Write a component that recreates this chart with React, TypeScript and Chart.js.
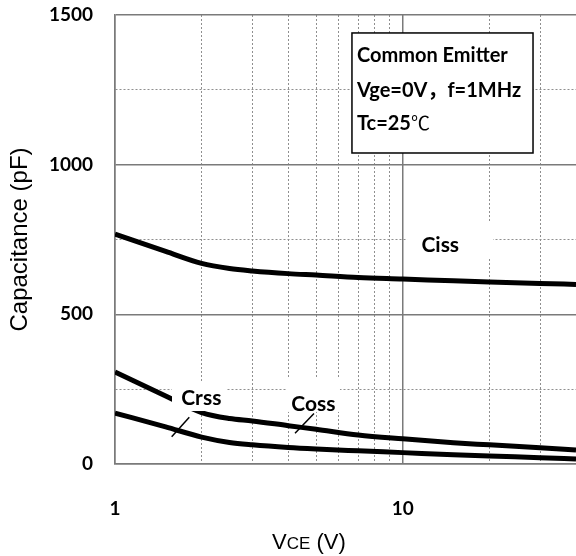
import React, { useEffect, useRef } from 'react';
import { Chart, registerables } from 'chart.js';

Chart.register(...registerables);

// ---- data ----
const vce = [1, 1.5, 2, 2.5, 3, 4, 5, 7, 10, 15, 20, 30, 40];
const ciss = [768, 710, 670, 653, 645, 636, 631, 623, 618, 612, 608, 603, 600];
const coss = [307, 227, 172, 152, 144, 128, 116, 97, 84, 71, 64, 54, 47];
const crss = [170, 124, 90, 72, 64, 55, 50, 44, 38, 31, 27, 21, 17];

const xGridValues = [1, 2, 3, 4, 5, 6, 7, 8, 9, 10, 20, 30];
const xTickLabels = [1, 10];
const yTickLabels = [0, 500, 1000, 1500];

const boxLines = ['Common Emitter', 'Vge=0V，f=1MHz', 'Tc=25'];

// ---- annotation layout (in data coordinates) ----
const curveLabels = [
  { text: 'Ciss', x: 13.5, y: 732, box: [10.35, 20.6, 808, 688] },
  { text: 'Crss', x: 1.995, y: 219, box: [1.578, 2.45, 271, 177] },
  { text: 'Coss', x: 4.89, y: 200, box: [3.96, 6.05, 284, 174] },
];
const leaders = [
  [1.812, 156, 1.574, 91],
  [4.915, 169, 4.223, 103],
];
const infoBox = { x0: 6.66, x1: 28.36, y0: 1440, y1: 1039, textX: 6.93, baselines: [1343, 1226, 1116] };

const LABEL_FONT = 'Lato, "Noto Sans", "Noto Sans CJK SC", sans-serif';
const GRID_MAJOR = '#7a7a7a';
const GRID_MINOR = '#8f8f8f';

const annotPlugin = {
  id: 'annot',
  afterDatasetsDraw(chart: any) {
    const { ctx, scales } = chart;
    const x = scales.x;
    const y = scales.y;
    const px = (v: number) => x.getPixelForValue(v);
    const py = (v: number) => y.getPixelForValue(v);
    ctx.save();
    // white patches behind curve labels
    ctx.fillStyle = '#ffffff';
    for (const l of curveLabels) {
      const [a, b, c, d] = l.box;
      ctx.fillRect(px(a), py(c), px(b) - px(a), py(d) - py(c));
    }
    ctx.fillStyle = '#000';
    ctx.font = `bold 21px ${LABEL_FONT}`;
    ctx.textAlign = 'center';
    ctx.textBaseline = 'middle';
    for (const l of curveLabels) {
      ctx.fillText(l.text, px(l.x), py(l.y));
    }
    // leader lines
    ctx.strokeStyle = '#000';
    ctx.lineWidth = 1.5;
    for (const [a, b, c, d] of leaders) {
      ctx.beginPath();
      ctx.moveTo(px(a), py(b));
      ctx.lineTo(px(c), py(d));
      ctx.stroke();
    }
    // info box
    const bx0 = px(infoBox.x0), bx1 = px(infoBox.x1);
    const by0 = py(infoBox.y0), by1 = py(infoBox.y1);
    ctx.fillStyle = '#fff';
    ctx.fillRect(bx0, by0, bx1 - bx0, by1 - by0);
    ctx.lineWidth = 1.5;
    ctx.strokeStyle = '#000';
    ctx.strokeRect(bx0, by0, bx1 - bx0, by1 - by0);
    ctx.fillStyle = '#000';
    ctx.textAlign = 'left';
    ctx.textBaseline = 'alphabetic';
    boxLines.forEach((t, i) => {
      ctx.font = `bold 20px ${LABEL_FONT}`;
      ctx.fillText(t, px(infoBox.textX), py(infoBox.baselines[i]));
      if (i === 2) {
        const w = ctx.measureText(t).width;
        ctx.font = '19px "Noto Sans CJK SC", "DejaVu Sans", sans-serif';
        ctx.fillText('℃', px(infoBox.textX) + w, py(infoBox.baselines[i]));
      }
    });
    ctx.restore();
  },
  afterDraw(chart: any) {
    const { ctx } = chart;
    ctx.save();
    ctx.fillStyle = '#000';
    ctx.textBaseline = 'alphabetic';
    ctx.textAlign = 'left';
    const base = 549;
    let cx = 272;
    const big = '22px "Liberation Sans", Arial, sans-serif';
    const small = '17px "Liberation Sans", Arial, sans-serif';
    const parts: [string, string][] = [['V', big], ['CE', small], [' (V)', big]];
    for (const [t, f] of parts) {
      ctx.font = f;
      ctx.fillText(t, cx, base);
      cx += ctx.measureText(t).width;
    }
    ctx.restore();
  },
};

export default function App() {
  const ref = useRef<HTMLCanvasElement | null>(null);
  useEffect(() => {
    if (!ref.current) return;
    const mk = (arr: number[]) => vce.map((v, i) => ({ x: v, y: arr[i] }));
    const ds = (label: string, arr: number[]) => ({
      label,
      data: mk(arr),
      borderColor: '#000',
      borderWidth: 5,
      pointRadius: 0,
      fill: false,
      cubicInterpolationMode: 'monotone' as const,
    });
    const chart = new Chart(ref.current, {
      type: 'line',
      data: { datasets: [ds('Ciss', ciss), ds('Coss', coss), ds('Crss', crss)] },
      options: {
        responsive: false,
        animation: false,
        devicePixelRatio: 1,
        layout: { autoPadding: false, padding: { top: 15, left: 0, right: 0, bottom: 0 } },
        plugins: { legend: { display: false }, tooltip: { enabled: false } },
        scales: {
          x: {
            type: 'logarithmic',
            min: 1,
            max: 40,
            bounds: 'data',
            afterBuildTicks: (s: any) => {
              s.ticks = xGridValues.map((v) => ({ value: v }));
            },
            afterFit: (s: any) => {
              s.height = 92;
              s.paddingLeft = 0;
              s.paddingRight = 0;
            },
            ticks: {
              autoSkip: false,
              maxRotation: 0,
              padding: 33,
              color: '#000',
              font: { family: LABEL_FONT, weight: 'bold', size: 19 },
              callback: (v: any) => (xTickLabels.includes(Number(v)) ? String(v) : ''),
            },
            grid: {
              drawTicks: false,
              color: (c: any) => (c.tick && xTickLabels.includes(c.tick.value) ? GRID_MAJOR : GRID_MINOR),
              lineWidth: (c: any) => (c.tick && xTickLabels.includes(c.tick.value) ? 1.5 : 1),
            },
            border: {
              display: true,
              color: GRID_MAJOR,
              width: 1.5,
              dash: (c: any) => (c.tick && !xTickLabels.includes(c.tick.value) ? [2, 2] : []),
            },
          } as any,
          y: {
            type: 'linear',
            min: 0,
            max: 1500,
            afterFit: (s: any) => {
              s.width = 115;
              s.paddingTop = 0;
              s.paddingBottom = 0;
            },
            ticks: {
              stepSize: 250,
              padding: 22,
              color: '#000',
              font: { family: LABEL_FONT, weight: 'bold', size: 19 },
              callback: (v: any) => (yTickLabels.includes(Number(v)) ? String(v) : ''),
            },
            grid: {
              drawTicks: false,
              color: (c: any) => (c.tick && yTickLabels.includes(c.tick.value) ? GRID_MAJOR : GRID_MINOR),
              lineWidth: (c: any) => (c.tick && yTickLabels.includes(c.tick.value) ? 1.5 : 1),
            },
            border: {
              display: true,
              color: GRID_MAJOR,
              width: 1.5,
              dash: (c: any) => (c.tick && !yTickLabels.includes(c.tick.value) ? [2, 2] : []),
            },
            title: {
              display: true,
              text: 'Capacitance (pF)',
              color: '#000',
              font: { family: '"Liberation Sans", Arial, sans-serif', size: 24, weight: 'normal' },
              padding: { top: 6, bottom: 0 },
            },
          } as any,
        },
      },
      plugins: [annotPlugin],
    });
    return () => chart.destroy();
  }, []);
  return (
    <div style={{ position: 'fixed', left: 0, top: 0, width: 576, height: 556, background: '#fff' }}>
      <canvas ref={ref} width={576} height={556} style={{ display: 'block' }} />
    </div>
  );
}
